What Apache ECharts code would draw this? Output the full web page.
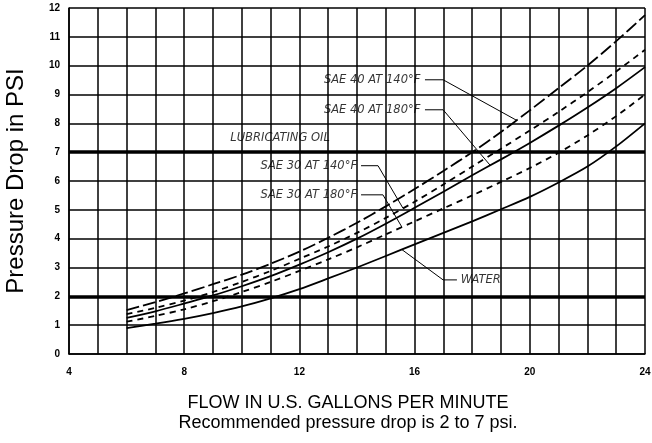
<!DOCTYPE html>
<html>
<head>
<meta charset="utf-8">
<script src="https://cdn.jsdelivr.net/npm/echarts@6/dist/echarts.min.js"></script>
<style>
  html, body { margin: 0; padding: 0; background: #fff; }
  #chart { width: 652px; height: 443px; }
</style>
</head>
<body>
<div id="chart"></div>
<script>
// flow in gpm, pressure drop in psi
var flow = [6, 7, 8, 9, 10, 11, 12, 13, 14, 15, 16, 17, 18, 19, 20, 21, 22, 23, 24];
var sae40at140 = [1.52, 1.8, 2.1, 2.42, 2.75, 3.13, 3.55, 4.03, 4.55, 5.12, 5.72, 6.35, 7.0, 7.7, 8.45, 9.22, 10.0, 10.85, 11.75];
var sae30at140 = [1.38, 1.6, 1.85, 2.15, 2.5, 2.88, 3.3, 3.73, 4.2, 4.72, 5.28, 5.88, 6.5, 7.12, 7.75, 8.4, 9.08, 9.8, 10.55];
var sae40at180 = [1.25, 1.48, 1.75, 2.03, 2.35, 2.7, 3.1, 3.53, 4.0, 4.52, 5.07, 5.63, 6.2, 6.75, 7.32, 7.92, 8.55, 9.22, 9.95];
var sae30at180 = [1.12, 1.32, 1.55, 1.83, 2.15, 2.5, 2.88, 3.28, 3.7, 4.15, 4.6, 5.05, 5.5, 5.97, 6.45, 6.98, 7.58, 8.25, 9.0];
var water = [0.9, 1.05, 1.22, 1.42, 1.65, 1.93, 2.25, 2.62, 3.0, 3.4, 3.8, 4.2, 4.6, 5.02, 5.45, 5.95, 6.5, 7.2, 8.0];

// recommended band limits
var limits = [2, 7];

var xTicks = [4, 8, 12, 16, 20, 24];

// callouts (text, anchor in data units, align) and their leader lines
var callouts = [
  ['SAE 40 AT 140°F', [16.2, 9.51], 'right'],
  ['SAE 40 AT 180°F', [16.2, 8.47], 'right'],
  ['LUBRICATING OIL', [9.6, 7.5], 'left'],
  ['SAE 30 AT 140°F', [14.0, 6.53], 'right'],
  ['SAE 30 AT 180°F', [14.0, 5.52], 'right'],
  ['WATER', [17.6, 2.57], 'left']
];
var leaders = [
  [[16.36, 9.51], [16.99, 9.51], [19.55, 8.1]],
  [[16.36, 8.47], [16.99, 8.47], [18.62, 6.55]],
  [[14.14, 6.53], [14.73, 6.53], [15.6, 5.05]],
  [[14.14, 5.52], [14.9, 5.52], [15.56, 4.4]],
  [[15.56, 3.62], [16.99, 2.57], [17.47, 2.57]]
];

function pairs(ys) {
  return flow.map(function (x, i) { return [x, ys[i]]; });
}

function curve(name, ys, type) {
  return {
    name: name,
    type: 'line',
    data: pairs(ys),
    smooth: 0.3,
    symbol: 'none',
    silent: true,
    lineStyle: { color: '#000', width: 1.8, type: type }
  };
}

var chart = echarts.init(document.getElementById('chart'));

var series = [
  curve('SAE 40 AT 140°F', sae40at140, [13, 4]),
  curve('SAE 30 AT 140°F', sae30at140, [6, 5]),
  curve('SAE 40 AT 180°F', sae40at180, 'solid'),
  curve('SAE 30 AT 180°F', sae30at180, [6, 5]),
  curve('WATER', water, 'solid')
];

// thick limit lines
series[0].markLine = {
  silent: true,
  symbol: 'none',
  label: { show: false },
  lineStyle: { color: '#000', width: 3.5, type: 'solid' },
  data: limits.map(function (v) { return { yAxis: v }; })
};

leaders.forEach(function (pts) {
  series.push({
    type: 'line',
    data: pts,
    symbol: 'none',
    silent: true,
    lineStyle: { color: '#000', width: 1 }
  });
});

series.push({
  type: 'scatter',
  symbolSize: 0,
  silent: true,
  data: callouts.map(function (c) {
    return {
      value: c[1],
      label: {
        show: true,
        formatter: c[0],
        position: [0, 0],
        align: c[2],
        verticalAlign: 'middle',
        fontFamily: 'DejaVu Sans',
        fontStyle: 'italic',
        fontSize: 11.5,
        color: '#000'
      }
    };
  })
});

var option = {
  backgroundColor: '#fff',
  animation: false,
  grid: { left: 69, right: 7, top: 8, bottom: 89, containLabel: false, outerBoundsMode: 'none' },
  xAxis: {
    type: 'value',
    min: 4,
    max: 24,
    interval: 1,
    axisLine: { lineStyle: { color: '#000', width: 1.5 } },
    axisTick: { show: false },
    splitLine: { lineStyle: { color: '#000', width: 1.5 } },
    axisLabel: {
      margin: 13,
      color: '#000',
      fontFamily: 'Liberation Sans',
      fontWeight: 'bold',
      fontSize: 10,
      formatter: function (v) { return xTicks.indexOf(v) >= 0 ? String(v) : ''; }
    }
  },
  yAxis: {
    type: 'value',
    min: 0,
    max: 12,
    interval: 1,
    name: 'Pressure Drop in PSI',
    nameLocation: 'middle',
    nameGap: 41,
    nameTextStyle: { fontFamily: 'Liberation Sans', fontSize: 24, color: '#000' },
    axisLine: { lineStyle: { color: '#000', width: 1.5 } },
    axisTick: { show: false },
    splitLine: { lineStyle: { color: '#000', width: 1.5 } },
    axisLabel: {
      margin: 9,
      color: '#000',
      fontFamily: 'Liberation Sans',
      fontWeight: 'bold',
      fontSize: 10
    }
  },
  graphic: [
    {
      type: 'text', x: 348, y: 403,
      style: {
        text: 'FLOW IN U.S. GALLONS PER MINUTE',
        font: '18px "Liberation Sans"', fill: '#000',
        align: 'center', verticalAlign: 'middle',
        textAlign: 'center', textVerticalAlign: 'middle'
      }
    },
    {
      type: 'text', x: 348, y: 423,
      style: {
        text: 'Recommended pressure drop is 2 to 7 psi.',
        font: '18px "Liberation Sans"', fill: '#000',
        align: 'center', verticalAlign: 'middle',
        textAlign: 'center', textVerticalAlign: 'middle'
      }
    }
  ],
  series: series
};

chart.setOption(option);
</script>
</body>
</html>
